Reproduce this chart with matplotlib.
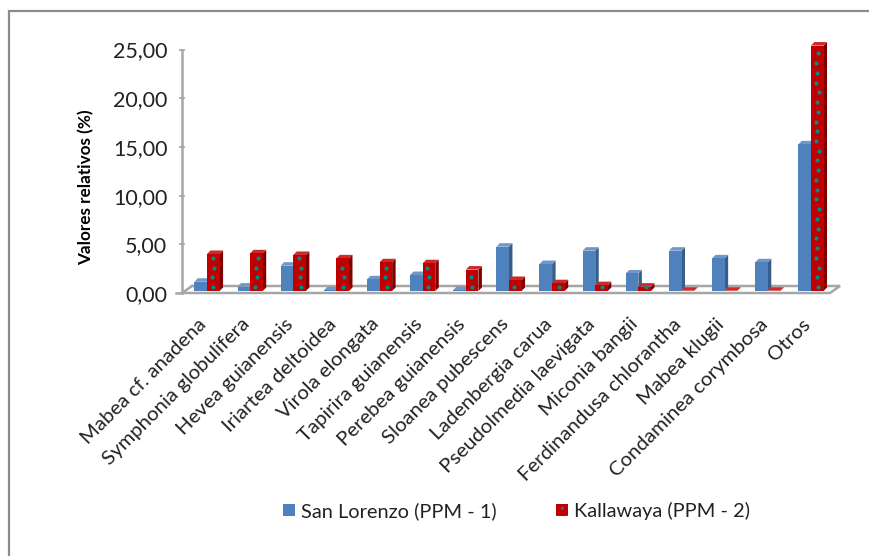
"""Bar chart with fake 3D bars: relative values per species, two plots."""
import numpy as np
import matplotlib
matplotlib.use('Agg')
import matplotlib.pyplot as plt
from matplotlib.lines import Line2D
from matplotlib.patches import Patch, Rectangle
from matplotlib.transforms import ScaledTranslation

plt.rcParams.update({
    'font.family': ['Lato', 'DejaVu Sans'],
    'hatch.linewidth': 1.0,
})

species = ['Mabea cf. anadena', 'Symphonia globulifera', 'Hevea guianensis',
           'Iriartea deltoidea', 'Virola elongata', 'Tapirira guianensis',
           'Perebea guianensis', 'Sloanea pubescens', 'Ladenbergia carua',
           'Pseudolmedia laevigata', 'Miconia bangii', 'Ferdinandusa chlorantha',
           'Mabea klugii', 'Condaminea corymbosa', 'Otros']
san_lorenzo = [0.95, 0.45, 2.6, 0.07, 1.2, 1.64, 0.1, 4.55, 2.77, 4.14, 1.8,
               4.14, 3.35, 2.95, 15.06]
kallawaya = [3.8, 3.87, 3.7, 3.35, 2.95, 2.85, 2.2, 1.13, 0.8, 0.6, 0.45,
             0.03, 0.03, 0.03, 25.2]
y_ticks = [0, 5, 10, 15, 20, 25]

W, H = 870, 556
fig = plt.figure(figsize=(W / 100, H / 100), dpi=100, facecolor='white')

# axes box in pixels: y=0 at 293, y=25 at 49.5
px_left, px_right, px_bottom, px_top = 185.4, 832.5, 293, 49.5
ax = fig.add_axes([px_left / W, 1 - px_bottom / H,
                   (px_right - px_left) / W, (px_bottom - px_top) / H])
ax.set_xlim(-0.5, 14.5)
ax.set_ylim(0, 25)
ax.patch.set_visible(False)

xu = (px_right - px_left) / 15   # pixels per category
yu = (px_bottom - px_top) / 25   # pixels per unit
base = 2 / yu


def box(x0, w, val, front, side, top):
    # front face plus side and top faces, offset by a few px for the 3D look
    dx, dy = 3.5 / xu, 3.5 / yu
    y1 = base + val
    ax.fill([x0 + w, x0 + w + dx, x0 + w + dx, x0 + w],
            [base, base + dy, y1 + dy, y1], color=side, lw=0, clip_on=False, zorder=3)
    ax.fill([x0, x0 + dx, x0 + w + dx, x0 + w],
            [y1, y1 + dy, y1 + dy, y1], color=top, lw=0, clip_on=False, zorder=3)
    ax.add_patch(Rectangle((x0, base), w, val, facecolor=front, lw=0, clip_on=False, zorder=4))


# floor and walls
gray = '#a6a6a6'
fx, fy = 10 / xu, 7 / yu
fl = (182 - px_left) / xu - 0.5
fr = (830 - px_left) / xu - 0.5
ax.plot([fl + fx, fr + fx, fr, fl, fl + fx], [fy, fy, 0, 0, fy], color=gray, lw=1.8,
        clip_on=False, zorder=1, solid_joinstyle='miter')
ax.plot([fl - 6 / xu, fl], [0, 0], color=gray, lw=1.8, clip_on=False, zorder=1)
ax.plot([fl, fl], [0, 25], color=gray, lw=1.8, clip_on=False, zorder=1)

bw = 12.6 / xu
wobble = [0, -1.5, 1, 0, 1.5, -1]  # px, the fill pattern is not a straight column
for i, (a, b) in enumerate(zip(san_lorenzo, kallawaya)):
    box(i - bw, bw, a, '#4f81bd', '#385d8a', '#6f97c8')
    box(i, bw, b, '#c00000', '#800000', '#cc2a2a')
    # teal dot fill of the red bars
    dots = np.arange(0.4, b, 1.0)
    off = [wobble[(i + k) % len(wobble)] / xu for k in range(len(dots))]
    ax.scatter(i + bw / 2 + np.array(off), base + dots, s=9, color='#008b8b', lw=0,
               clip_on=False, zorder=5)

for s in ax.spines.values():
    s.set_visible(False)
ax.set_yticks(y_ticks)
ax.set_yticklabels([f'{v:.2f}'.replace('.', ',') for v in y_ticks], fontsize=15.5,
                   color='#222222')
ax.tick_params(axis='y', length=4, width=1.2, color=gray, pad=9)
ax.set_xticks(np.arange(15))
ax.set_xticklabels(species, rotation=45, ha='right', rotation_mode='anchor',
                   fontsize=14.7, color='#222222')
ax.tick_params(axis='x', length=0, pad=16)
shift = ScaledTranslation(-9 / 100, 0, fig.dpi_scale_trans)
for lab in ax.get_xticklabels():
    lab.set_transform(lab.get_transform() + shift)
ax.set_ylabel('Valores relativos (%)', fontsize=12.3, fontweight='bold')
ax.yaxis.set_label_coords((94 - px_left) / (px_right - px_left),
                          (px_bottom - 187) / (px_bottom - px_top))

handles = [Patch(facecolor='#4f81bd', label='San Lorenzo (PPM - 1)'),
           Patch(facecolor='#c00000', edgecolor='#008b8b', hatch='..', lw=0,
                 label='Kallawaya (PPM - 2)')]
fig.legend(handles=handles, loc='center', bbox_to_anchor=(516.5 / W, 1 - 511 / H), ncol=2,
           frameon=False, fontsize=14.4, handlelength=0.6, handleheight=0.6,
           handletextpad=0.3, columnspacing=3.0, labelcolor='#222222')

# only the top and left edges of the chart frame show
frame = '#8c8c8c'
fig.add_artist(Line2D([9 / W, 9 / W, 1], [0, 1 - 11 / H, 1 - 11 / H], color=frame, lw=1.6,
                      transform=fig.transFigure, solid_joinstyle='miter'))

fig.savefig('out.png', dpi=100)
